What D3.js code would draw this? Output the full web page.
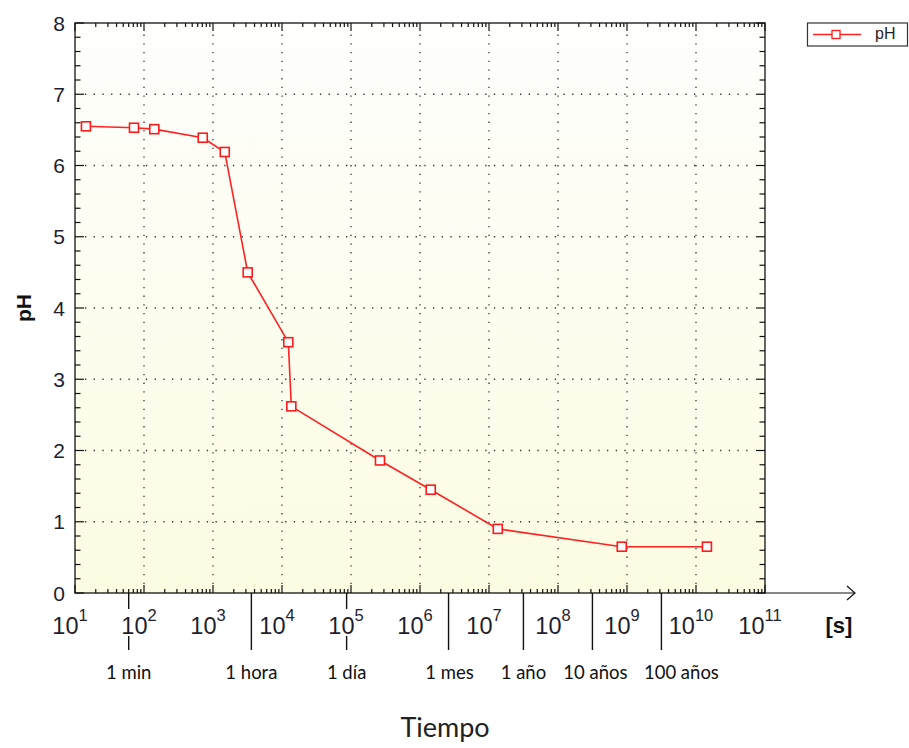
<!DOCTYPE html>
<html>
<head>
<meta charset="utf-8">
<script src="https://cdn.jsdelivr.net/npm/d3@7"></script>
<style>
  html, body { margin: 0; padding: 0; background: #fff; }
  svg { display: block; }
</style>
</head>
<body>
<svg id="chart" width="909" height="748"></svg>
<script>
// pH evolution over time (seconds, log scale)
const timeSeconds = [14.4, 71.6, 141, 710, 1480, 3184, 12340, 13650, 2.63e5, 1.43e6, 1.34e7, 8.4e8, 1.44e10];
const phValues    = [6.55, 6.53, 6.51, 6.39, 6.19, 4.50, 3.52, 2.62, 1.86, 1.45, 0.90, 0.65, 0.65];

// x-axis decades (exponents) and y-axis ticks
const decadeExponents = [1, 2, 3, 4, 5, 6, 7, 8, 9, 10, 11];
const phTicks = [0, 1, 2, 3, 4, 5, 6, 7, 8];

// human time references (seconds) shown under the axis
const timeRefLabels = ["1 min", "1 hora", "1 día", "1 mes", "1 año", "10 años", "100 años"];
const timeRefSeconds = [60, 3600, 86400, 2592000, 31536000, 315360000, 3153600000];

const svg = d3.select("#chart");
const plotL = 75, plotR = 765, plotT = 23, plotB = 593;

// horizontal nudges so the wider reference labels do not collide
const refLabelNudge = { "1 mes": 1, "10 años": 3, "100 años": 20 };

const x = d3.scaleLog().domain([1e1, 1e11]).range([plotL, plotR]);
const y = d3.scaleLinear().domain([0, 8]).range([plotB, plotT]);

// background gradient
const defs = svg.append("defs");
const grad = defs.append("linearGradient").attr("id", "bg")
  .attr("x1", 0).attr("y1", 0).attr("x2", 0).attr("y2", 1);
grad.append("stop").attr("offset", "0%").attr("stop-color", "#fefefc");
grad.append("stop").attr("offset", "100%").attr("stop-color", "#fcfce3");

svg.append("rect")
  .attr("x", plotL).attr("y", plotT)
  .attr("width", plotR - plotL).attr("height", plotB - plotT)
  .attr("fill", "url(#bg)");

// dotted grid
const grid = svg.append("g").attr("stroke", "#333").attr("stroke-width", 1.3)
  .attr("stroke-dasharray", "1.3,7.4").attr("fill", "none");
decadeExponents.slice(1, -1).forEach(e => {
  grid.append("line")
    .attr("x1", x(Math.pow(10, e))).attr("x2", x(Math.pow(10, e)))
    .attr("y1", plotB - 9).attr("y2", plotT + 9);
});
phTicks.slice(1, -1).forEach(v => {
  grid.append("line")
    .attr("y1", y(v)).attr("y2", y(v))
    .attr("x1", plotL + 10).attr("x2", plotR - 10);
});

// inner ticks on all four sides
const ticks = svg.append("g").attr("stroke", "#111").attr("stroke-width", 1.2);
const minorX = [];
decadeExponents.slice(0, -1).forEach(e => {
  for (let m = 2; m <= 9; m++) minorX.push(m * Math.pow(10, e));
});
minorX.forEach(v => {
  const px = x(v);
  ticks.append("line").attr("x1", px).attr("x2", px).attr("y1", plotB).attr("y2", plotB - 4);
  ticks.append("line").attr("x1", px).attr("x2", px).attr("y1", plotT).attr("y2", plotT + 4);
});
decadeExponents.forEach(e => {
  const px = x(Math.pow(10, e));
  ticks.append("line").attr("x1", px).attr("x2", px).attr("y1", plotB).attr("y2", plotB - 8);
  ticks.append("line").attr("x1", px).attr("x2", px).attr("y1", plotT).attr("y2", plotT + 8);
});
d3.range(0, 8.01, 0.2).forEach(v => {
  const major = Math.abs(v - Math.round(v)) < 1e-6;
  const len = major ? 9 : 5.5;
  ticks.append("line").attr("x1", plotL).attr("x2", plotL + len).attr("y1", y(v)).attr("y2", y(v));
  ticks.append("line").attr("x1", plotR).attr("x2", plotR - len).attr("y1", y(v)).attr("y2", y(v));
});

// long reference ticks below the axis
const refTicks = svg.append("g").attr("stroke", "#111").attr("stroke-width", 1.4);
timeRefSeconds.forEach(s => {
  refTicks.append("line").attr("x1", x(s)).attr("x2", x(s)).attr("y1", plotB).attr("y2", 650);
});

// frame and axes
svg.append("rect")
  .attr("x", plotL).attr("y", plotT)
  .attr("width", plotR - plotL).attr("height", plotB - plotT)
  .attr("fill", "none").attr("stroke", "#111").attr("stroke-width", 1.3);
svg.append("line").attr("x1", plotR).attr("x2", 855).attr("y1", plotB).attr("y2", plotB)
  .attr("stroke", "#111").attr("stroke-width", 1.2);
svg.append("path").attr("d", `M847,${plotB - 7} L855,${plotB} L847,${plotB + 7}`)
  .attr("fill", "none").attr("stroke", "#111").attr("stroke-width", 1.2);

// x tick labels 10^n, with white backing over reference ticks
const xLab = svg.append("g").attr("font-family", "Liberation Sans, Arial, sans-serif").attr("fill", "#1e1e2e");
decadeExponents.forEach(e => {
  const g = xLab.append("g");
  const t = g.append("text")
    .attr("x", x(Math.pow(10, e)) - 5).attr("y", 634)
    .attr("text-anchor", "middle").attr("font-size", 23.5);
  t.append("tspan").text("10");
  t.append("tspan").attr("font-size", 16.5).attr("dy", -13.5).text(String(e));
  const bb = t.node().getBBox();
  g.insert("rect", "text")
    .attr("x", bb.x).attr("y", 609).attr("width", bb.width).attr("height", 27)
    .attr("fill", "#fff");
});
svg.append("text")
  .attr("x", 839).attr("y", 633).attr("text-anchor", "middle")
  .attr("font-family", "Liberation Sans, Arial, sans-serif").attr("font-weight", "bold")
  .attr("font-size", 22).attr("fill", "#111").text("[s]");

// y tick labels
svg.append("g").selectAll("text").data(phTicks).join("text")
  .attr("x", 65).attr("y", d => y(d)).attr("dy", "0.36em")
  .attr("text-anchor", "end")
  .attr("font-family", "Liberation Sans, Arial, sans-serif").attr("font-size", 21)
  .attr("fill", "#1e1e2e").text(d => d);

// y axis title
svg.append("text")
  .attr("transform", "translate(31,308) rotate(-90)")
  .attr("text-anchor", "middle")
  .attr("font-family", "Liberation Sans, Arial, sans-serif").attr("font-weight", "bold")
  .attr("font-size", 21).attr("fill", "#111").text("pH");

// time reference labels
svg.append("g").selectAll("text").data(timeRefLabels).join("text")
  .attr("x", (d, i) => x(timeRefSeconds[i]) + (refLabelNudge[d] || 0))
  .attr("y", 679).attr("text-anchor", "middle")
  .attr("font-family", "Lato, sans-serif").attr("font-size", 18.5)
  .attr("fill", "#111").text(d => d);

svg.append("text")
  .attr("x", 445).attr("y", 737).attr("text-anchor", "middle")
  .attr("font-family", "Lato, sans-serif").attr("font-size", 27)
  .attr("fill", "#222").text("Tiempo");

// series line and markers
const pts = timeSeconds.map((t, i) => [t, phValues[i]]);
svg.append("path").datum(pts)
  .attr("d", d3.line().x(d => x(d[0])).y(d => y(d[1])))
  .attr("fill", "none").attr("stroke", "#ff2222").attr("stroke-width", 1.6);
svg.append("g").selectAll("rect").data(pts).join("rect")
  .attr("x", d => x(d[0]) - 4.5).attr("y", d => y(d[1]) - 4.5)
  .attr("width", 9).attr("height", 9)
  .attr("fill", "#fff").attr("stroke", "#ff1a1a").attr("stroke-width", 1.6);

// legend
const lg = svg.append("g");
lg.append("rect").attr("x", 807.5).attr("y", 23).attr("width", 100).attr("height", 23)
  .attr("fill", "#fff").attr("stroke", "#333").attr("stroke-width", 1.2);
lg.append("line").attr("x1", 813).attr("x2", 861).attr("y1", 34.5).attr("y2", 34.5)
  .attr("stroke", "#ff2222").attr("stroke-width", 1.4);
lg.append("rect").attr("x", 832).attr("y", 30.5).attr("width", 8).attr("height", 8)
  .attr("fill", "#fff").attr("stroke", "#ff1a1a").attr("stroke-width", 1.3);
lg.append("text").attr("x", 875).attr("y", 38.5)
  .attr("font-family", "Liberation Sans, Arial, sans-serif").attr("font-size", 16)
  .attr("fill", "#1e1e2e").text("pH");
</script>
</body>
</html>
